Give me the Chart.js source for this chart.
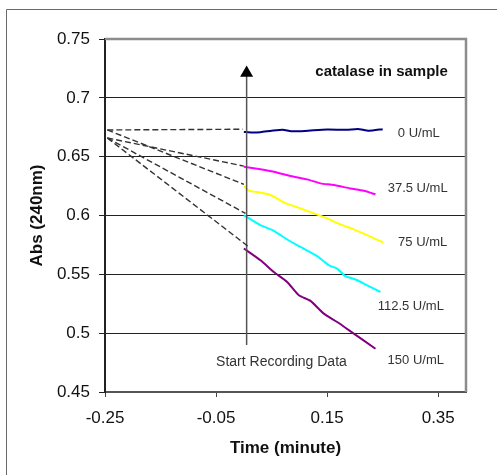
<!DOCTYPE html>
<html>
<head>
<meta charset="UTF-8">
<title>Catalase assay</title>
<script src="https://cdn.jsdelivr.net/npm/chart.js"></script>
<style>
    body { margin: 0; background: #fff; }
    canvas { display: block; }
</style>
</head>
<body>
<canvas id="absChart" width="497" height="475"></canvas>
<script>
// axis ticks
const xTicks = [-0.25, -0.05, 0.15, 0.35];
const yTicks = [0.45, 0.5, 0.55, 0.6, 0.65, 0.7, 0.75];

// recorded curves (time in minutes, absorbance)
const t0 = [0, 0.015, 0.03, 0.05, 0.07, 0.085, 0.11, 0.15, 0.185, 0.205, 0.225, 0.25];
const abs0 = [0.671, 0.6705, 0.6708, 0.672, 0.6729, 0.6716, 0.6719, 0.6731, 0.6728, 0.6736, 0.672, 0.6734];
const t375 = [0, 0.03, 0.054, 0.084, 0.114, 0.138, 0.162, 0.192, 0.216, 0.237];
const abs375 = [0.6415, 0.6393, 0.6372, 0.6336, 0.6307, 0.6273, 0.6259, 0.623, 0.621, 0.618];
const t75 = [0, 0.009, 0.03, 0.048, 0.072, 0.102, 0.126, 0.15, 0.174, 0.198, 0.222, 0.251];
const abs75 = [0.625, 0.6211, 0.6194, 0.6174, 0.6112, 0.606, 0.6018, 0.5975, 0.5924, 0.5882, 0.5833, 0.5771];
const t1125 = [0, 0.03, 0.054, 0.078, 0.102, 0.132, 0.153, 0.168, 0.183, 0.201, 0.222, 0.246];
const abs1125 = [0.6004, 0.5918, 0.587, 0.5796, 0.5733, 0.5654, 0.5577, 0.5549, 0.5484, 0.5456, 0.5407, 0.535];
const t150 = [0, 0.03, 0.054, 0.078, 0.099, 0.12, 0.144, 0.168, 0.198, 0.237];
const abs150 = [0.572, 0.562, 0.552, 0.5435, 0.5322, 0.5274, 0.5166, 0.5095, 0.4996, 0.4868];

const seriesNames = ['0 U/mL', '37.5 U/mL', '75 U/mL', '112.5 U/mL', '150 U/mL'];
const seriesColors = ['#000080', '#ff00ff', '#ffff00', '#00ffff', '#800080'];

// extrapolation back to time zero (dashed)
const extrapStartX = [-0.2458, -0.2458, -0.2458, -0.2458, -0.2458];
const extrapStartY = [0.6727, 0.6659, 0.6727, 0.6659, 0.6659];
const extrapEndX = [-0.002, 0.0, 0.0, 0.003, 0.009];
const extrapEndY = [0.6733, 0.642, 0.6265, 0.6018, 0.5733];

// "start recording" marker
const markerX = [0.005, 0.005];
const markerY = [0.49, 0.721];

const seriesT = [t0, t375, t75, t1125, t150];
const seriesAbs = [abs0, abs375, abs75, abs1125, abs150];

function pts(xs, ys) {
    return xs.map((x, i) => ({x: x, y: ys[i]}));
}

const datasets = [];
for (let i = 0; i < 5; i++) {
    datasets.push({
        label: 'extrap ' + seriesNames[i],
        data: pts([extrapStartX[i], extrapEndX[i]], [extrapStartY[i], extrapEndY[i]]),
        showLine: true,
        borderColor: '#333',
        borderWidth: 1.4,
        borderDash: [6, 3],
        pointRadius: 0
    });
}
datasets.push({
    label: 'start',
    data: pts(markerX, markerY),
    showLine: true,
    borderColor: '#555',
    borderWidth: 1.5,
    pointStyle: 'triangle',
    pointRadius: [0, 7.5],
    pointBackgroundColor: '#000',
    pointBorderColor: '#000',
    pointBorderWidth: 0
});
for (let i = 0; i < 5; i++) {
    datasets.push({
        label: seriesNames[i],
        data: pts(seriesT[i], seriesAbs[i]),
        showLine: true,
        borderColor: seriesColors[i],
        borderWidth: 2,
        pointRadius: 0,
        tension: 0.2
    });
}

// frame, plot box and text notes
const decorations = {
    id: 'decorations',
    beforeDraw(chart) {
        const ctx = chart.ctx;
        ctx.save();
        ctx.strokeStyle = '#6a6a6a';
        ctx.lineWidth = 1;
        ctx.beginPath();
        ctx.moveTo(6.5, chart.height);
        ctx.lineTo(6.5, 9.5);
        ctx.lineTo(chart.width, 9.5);
        ctx.stroke();
        ctx.restore();
    },
    afterDatasetsDraw(chart) {
        const ctx = chart.ctx;
        const a = chart.chartArea;
        const xs = chart.scales.x, ys = chart.scales.y;
        ctx.save();
        ctx.strokeStyle = '#8c8c8c';
        ctx.lineWidth = 2.5;
        ctx.beginPath();
        ctx.moveTo(a.left, a.top);
        ctx.lineTo(a.right, a.top);
        ctx.lineTo(a.right, a.bottom);
        ctx.stroke();

        ctx.textAlign = 'center';
        ctx.textBaseline = 'middle';
        ctx.fillStyle = '#333';
        ctx.font = '13px "Liberation Sans", Arial, sans-serif';
        const lx = [0.315, 0.313, 0.322, 0.3006, 0.3096];
        const ly = [0.670, 0.6233, 0.5773, 0.5228, 0.4768];
        seriesNames.forEach((n, i) => {
            ctx.fillText(n, xs.getPixelForValue(lx[i]), ys.getPixelForValue(ly[i]));
        });
        ctx.font = '14px "Liberation Sans", Arial, sans-serif';
        ctx.fillText('Start Recording Data', xs.getPixelForValue(0.0677), ys.getPixelForValue(0.475));
        ctx.fillStyle = '#111';
        ctx.font = 'bold 15px "Liberation Sans", Arial, sans-serif';
        ctx.fillText('catalase in sample', xs.getPixelForValue(0.248), ys.getPixelForValue(0.722));
        ctx.restore();
    }
};

Chart.defaults.font.family = '"Liberation Sans", Arial, sans-serif';
Chart.defaults.color = '#111';

new Chart(document.getElementById('absChart'), {
    type: 'scatter',
    data: { datasets: datasets },
    options: {
        responsive: false,
        animation: false,
        devicePixelRatio: 1,
        layout: { padding: { left: 0, top: 39, right: 31, bottom: 0 } },
        plugins: {
            legend: { display: false },
            tooltip: { enabled: false }
        },
        scales: {
            x: {
                type: 'linear',
                min: -0.25,
                max: 0.4,
                afterBuildTicks: s => { s.ticks = xTicks.map(v => ({value: v})); },
                afterFit: s => { s.height = 83; },
                ticks: {
                    font: { size: 17 },
                    padding: 11,
                    maxRotation: 0,
                    callback: v => String(v)
                },
                grid: {
                    drawOnChartArea: false,
                    tickLength: 5,
                    color: '#444'
                },
                border: { color: '#555', width: 2 },
                title: {
                    display: true,
                    text: 'Time (minute)',
                    font: { size: 17, weight: 'bold' },
                    padding: { top: 0, bottom: 16 }
                }
            },
            y: {
                type: 'linear',
                min: 0.45,
                max: 0.75,
                afterBuildTicks: s => { s.ticks = yTicks.map(v => ({value: v})); },
                afterFit: s => { s.width = 105; },
                ticks: {
                    font: { size: 17 },
                    padding: 9,
                    callback: v => String(v)
                },
                grid: {
                    color: '#222',
                    lineWidth: 1,
                    tickLength: 6
                },
                border: { color: '#222', width: 2 },
                title: {
                    display: true,
                    text: 'Abs (240nm)',
                    font: { size: 17, weight: 'bold' },
                    padding: { top: 27, bottom: 0 }
                }
            }
        }
    },
    plugins: [decorations]
});
</script>
</body>
</html>
